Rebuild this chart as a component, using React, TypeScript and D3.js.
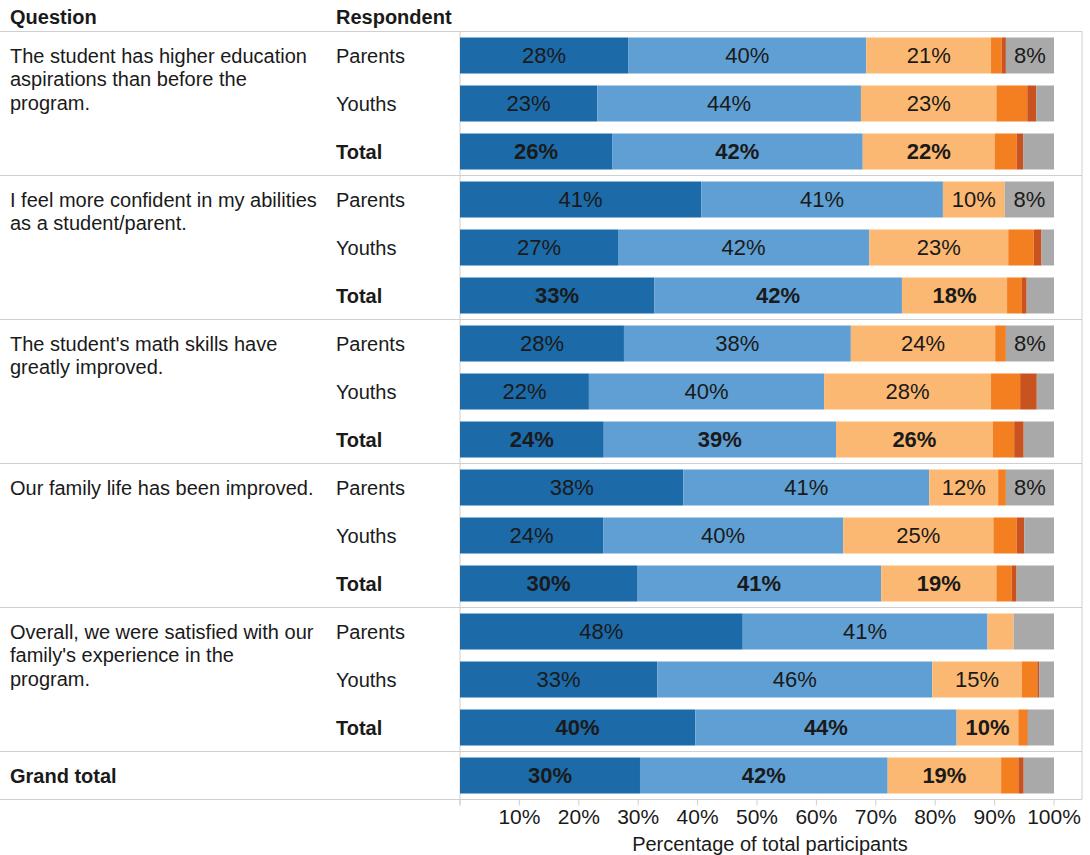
import React from "react";
import * as d3 from "d3";

const seriesKeys = ["vdb", "lb", "lo", "o", "do", "g"];
const seriesColors = ["#1c6aa8", "#5f9fd3", "#fbb872", "#f47f20", "#c9531f", "#a9a9a9"];

const questions = [
  ["The student has higher education", "aspirations than before the", "program."],
  ["I feel more confident in my abilities", "as a student/parent."],
  ["The student's math skills have", "greatly improved."],
  ["Our family life has been improved."],
  ["Overall, we were satisfied with our", "family's experience in the", "program."],
];
const respondents = ["Parents", "Youths", "Total"];

// values per row: [strongly agree, agree, neutral, disagree, strongly disagree, n/a]
const q1Values = [
  [28.3, 40.1, 21.0, 1.8, 0.7, 8.1],
  [23.1, 44.4, 22.8, 5.2, 1.5, 3.0],
  [25.6, 42.2, 22.2, 3.7, 1.1, 5.2],
];
const q2Values = [
  [40.6, 40.7, 10.4, 0, 0, 8.3],
  [26.6, 42.3, 23.4, 4.3, 1.3, 2.1],
  [32.7, 41.7, 17.7, 2.5, 0.8, 4.6],
];
const q3Values = [
  [27.6, 38.2, 24.3, 1.8, 0, 8.1],
  [21.7, 39.6, 28.1, 4.9, 2.8, 2.9],
  [24.2, 39.1, 26.4, 3.6, 1.6, 5.1],
];
const q4Values = [
  [37.6, 41.4, 11.6, 1.3, 0, 8.1],
  [24.1, 40.4, 25.3, 3.9, 1.3, 5.0],
  [29.8, 41.1, 19.4, 2.6, 0.8, 6.3],
];
const q5Values = [
  [47.6, 41.2, 4.4, 0, 0, 6.8],
  [33.2, 46.3, 15.1, 2.6, 0.3, 2.5],
  [39.6, 44.0, 10.4, 1.5, 0.1, 4.4],
];
const grandTotalValues = [30.3, 41.7, 19.1, 2.9, 0.9, 5.1];

const tickValues = [0, 10, 20, 30, 40, 50, 60, 70, 80, 90, 100];
const axisTitle = "Percentage of total participants";

const FONT = "'Liberation Sans', Arial, sans-serif";

type Row = { id: string; q: number; resp: string; values: number[]; bold: boolean };

export default function App() {
  const W = 1090, H = 855;
  const top = 31.5, bottom = 799.5;
  const x0 = 460, x1 = 1054;
  const allQ = [q1Values, q2Values, q3Values, q4Values, q5Values];
  const rows: Row[] = [];
  allQ.forEach((qv, qi) => {
    qv.forEach((v, ri) => {
      rows.push({ id: `q${qi}-${ri}`, q: qi, resp: respondents[ri], values: v, bold: ri === 2 });
    });
  });
  rows.push({ id: "grand", q: 5, resp: "", values: grandTotalValues, bold: true });

  const y = d3.scaleBand<string>().domain(rows.map(r => r.id)).range([top, bottom]).paddingInner(0.25).paddingOuter(0.125);
  const x = d3.scaleLinear().domain([0, 100]).range([x0, x1]);
  const step = y.step();

  const stackData = rows.map(r => {
    const o: any = { id: r.id };
    seriesKeys.forEach((k, i) => (o[k] = r.values[i]));
    return o;
  });
  const stacked = d3.stack<any>().keys(seriesKeys)(stackData);

  const groupBounds: number[] = [];
  for (let g = 0; g <= 5; g++) {
    const id = rows[g * 3].id;
    groupBounds.push((y(id) as number) - (step - y.bandwidth()) / 2);
  }
  groupBounds.push(bottom);

  const gridColor = "#cfcfcf";
  const textColor = "#1a1a1a";

  return (
    <svg width={W} height={H} style={{ position: "absolute", left: 0, top: 0, background: "#fff" }} fontFamily={FONT}>
      {/* headers */}
      <text x={10} y={24} fontSize={20} fontWeight="bold" fill={textColor}>Question</text>
      <text x={336} y={24} fontSize={20} fontWeight="bold" fill={textColor}>Respondent</text>

      {/* separators */}
      {groupBounds.map((yy, i) => (
        <line key={i} x1={0} x2={1082} y1={yy} y2={yy} stroke={gridColor} strokeWidth={1} />
      ))}
      <line x1={x0} x2={x0} y1={top} y2={bottom + 6} stroke={gridColor} />
      <line x1={1082} x2={1082} y1={top} y2={bottom} stroke={gridColor} />

      {/* bars */}
      {stacked.map((layer, li) => (
        <g key={layer.key} fill={seriesColors[li]}>
          {layer.map((d, i) => {
            const w = x(d[1]) - x(d[0]);
            if (w <= 0) return null;
            return <rect key={i} x={x(d[0])} y={y(rows[i].id)} width={w} height={y.bandwidth()} />;
          })}
        </g>
      ))}

      {/* bar labels */}
      {stacked.map((layer, li) =>
        layer.map((d, i) => {
          const v = d[1] - d[0];
          if (v < 7.5 || li === 3 || li === 4) return null;
          return (
            <text
              key={`${li}-${i}`}
              x={(x(d[0]) + x(d[1])) / 2}
              y={(y(rows[i].id) as number) + y.bandwidth() / 2}
              dy="0.36em"
              textAnchor="middle"
              fontSize={22}
              fontWeight={rows[i].bold ? "bold" : "normal"}
              fill={textColor}
            >
              {Math.round(v)}%
            </text>
          );
        })
      )}

      {/* respondent labels */}
      {rows.map(r => (
        <text
          key={r.id}
          x={336}
          y={(y(r.id) as number) + y.bandwidth() / 2}
          dy="0.36em"
          fontSize={20}
          fontWeight={r.bold && r.resp ? "bold" : "normal"}
          fill={textColor}
        >
          {r.resp}
        </text>
      ))}

      {/* question labels */}
      {questions.map((lines, qi) => {
        const firstId = rows[qi * 3].id;
        const cy = (y(firstId) as number) + y.bandwidth() / 2;
        return (
          <text key={qi} x={10} y={cy} fontSize={20} fill={textColor}>
            {lines.map((l, li) => (
              <tspan key={li} x={10} dy={li === 0 ? "0.36em" : 23.5}>{l}</tspan>
            ))}
          </text>
        );
      })}
      <text x={10} y={(y("grand") as number) + y.bandwidth() / 2} dy="0.36em" fontSize={20} fontWeight="bold" fill={textColor}>
        Grand total
      </text>

      {/* axis */}
      {tickValues.map(t => (
        <g key={t}>
          <line x1={x(t)} x2={x(t)} y1={bottom} y2={bottom + 6} stroke={gridColor} />
          {t > 0 && (
            <text x={x(t)} y={824} textAnchor="middle" fontSize={21} fill={textColor}>{t}%</text>
          )}
        </g>
      ))}
      <text x={(x0 + x1) / 2 + 13} y={851} textAnchor="middle" fontSize={20} fill={textColor}>{axisTitle}</text>
    </svg>
  );
}
